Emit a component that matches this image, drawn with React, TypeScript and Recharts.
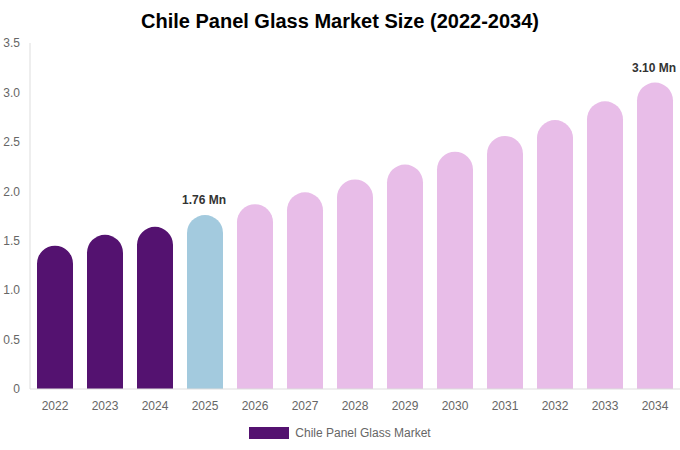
import React from 'react';
import { BarChart, Bar, XAxis, YAxis, Cell, LabelList } from 'recharts';

const years = ['2022', '2023', '2024', '2025', '2026', '2027', '2028', '2029', '2030', '2031', '2032', '2033', '2034'];
const marketSize = [1.45, 1.56, 1.64, 1.76, 1.87, 1.99, 2.12, 2.27, 2.4, 2.56, 2.72, 2.91, 3.1];
const valueLabels = ['', '', '', '1.76 Mn', '', '', '', '', '', '', '', '', '3.10 Mn'];
const yTicks = [0, 0.5, 1, 1.5, 2, 2.5, 3, 3.5];

const HISTORIC = '#541270';
const CURRENT = '#a3cade';
const FORECAST = '#e8bde8';

const data = years.map((year, i) => ({ year, value: marketSize[i], label: valueLabels[i] }));

const barColor = (i: number) => (i < 3 ? HISTORIC : i === 3 ? CURRENT : FORECAST);

const renderValueLabel = (props: any) => {
  const { x, y, width, value } = props;
  if (!value) return null;
  return (
    <text x={Number(x) + Number(width) / 2 - 1} y={Number(y) - 11} textAnchor="middle" fill="#333" fontSize={12} fontWeight="bold">
      {value}
    </text>
  );
};

export default function App() {
  return (
    <div style={{ position: 'absolute', left: 0, top: 0, width: 680, height: 450, fontFamily: '"Liberation Sans", Arial, sans-serif', background: '#fff' }}>
      <div style={{ position: 'absolute', top: 8, left: 0, width: 680, textAlign: 'center', fontSize: 20, fontWeight: 'bold', color: '#000', lineHeight: '26px' }}>
        Chile Panel Glass Market Size (2022-2034)
      </div>
      <BarChart width={680} height={450} data={data} margin={{ top: 43, right: 0, left: 0, bottom: 31 }} barSize={36}>
        <XAxis
          dataKey="year"
          stroke="#dddddd"
          tickLine={false}
          tickMargin={6}
          tick={{ fill: '#666', fontSize: 12 }}
        />
        <YAxis
          domain={[0, 3.5]}
          ticks={yTicks}
          width={30}
          stroke="#dddddd"
          tickLine={false}
          tickMargin={4}
          tick={{ fill: '#666', fontSize: 12 }}
          tickFormatter={(v: number) => (v === 0 ? '0' : v.toFixed(1))}
          interval={0}
        />
        <Bar dataKey="value" radius={[18, 18, 0, 0]} isAnimationActive={false}>
          {data.map((_, i) => (
            <Cell key={`c-${i}`} fill={barColor(i)} />
          ))}
          <LabelList dataKey="label" content={renderValueLabel} />
        </Bar>
      </BarChart>
      <div style={{ position: 'absolute', top: 426, left: 0, width: 680, display: 'flex', justifyContent: 'center', alignItems: 'center', fontSize: 12, color: '#666' }}>
        <span style={{ display: 'inline-block', width: 40, height: 12, background: HISTORIC, marginRight: 6 }} />
        <span>Chile Panel Glass Market</span>
      </div>
    </div>
  );
}
